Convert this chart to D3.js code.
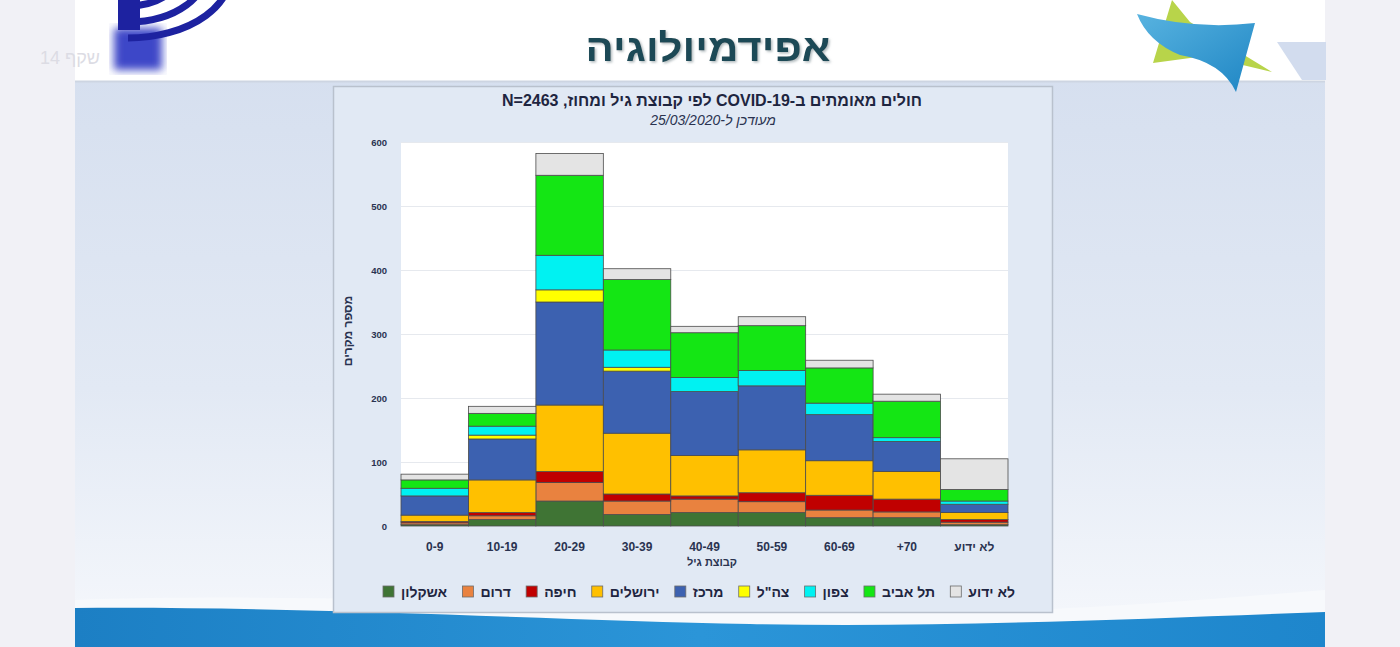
<!DOCTYPE html>
<html>
<head>
<meta charset="utf-8">
<script src="https://cdn.jsdelivr.net/npm/d3@7"></script>
<style>
  body { margin: 0; background: #f1f1f6; overflow: hidden; }
  text { font-family: "Liberation Sans", Arial, sans-serif; }
</style>
</head>
<body>
<div id="slide"></div>
<script>
// Age groups on the x axis
const ageGroups = ["0-9", "10-19", "20-29", "30-39", "40-49", "50-59", "60-69", "+70", "לא ידוע"];
// Districts, bottom of the stack first
const districts = ["אשקלון", "דרום", "חיפה", "ירושלים", "מרכז", "צה\"ל", "צפון", "תל אביב", "לא ידוע"];
const districtColors = ["#3f7434", "#e9823f", "#c00000", "#ffc000", "#3c61b0", "#ffff00", "#00f2f2", "#14e614", "#e4e4e4"];

// Cases per district, one value per age group
const ashkelon  = [2, 10, 39, 18, 21, 21, 13, 13, 2];
const south     = [3, 6, 29, 21, 21, 17, 12, 9, 4];
const haifa     = [2, 5, 17, 11, 5, 14, 23, 20, 4];
const jerusalem = [10, 51, 104, 95, 63, 67, 54, 43, 11];
const center    = [30, 64, 161, 97, 100, 100, 72, 47, 13];
const idf       = [0, 6, 19, 6, 0, 0, 0, 0, 0];
const north     = [12, 14, 54, 27, 22, 24, 18, 6, 5];
const telAviv   = [13, 20, 125, 110, 70, 70, 55, 57, 18];
const unknown   = [9, 11, 34, 17, 10, 14, 12, 11, 48];
const yTicks = [0, 100, 200, 300, 400, 500, 600];

const series = [ashkelon, south, haifa, jerusalem, center, idf, north, telAviv, unknown];

const width = 1400, height = 647;
const svg = d3.select("#slide").append("svg")
    .attr("width", width)
    .attr("height", height);

const defs = svg.append("defs");
const bodyGrad = defs.append("linearGradient").attr("id", "bodyGrad")
    .attr("x1", 0).attr("y1", 0).attr("x2", 0).attr("y2", 1);
bodyGrad.append("stop").attr("offset", "0%").attr("stop-color", "#d3ddee");
bodyGrad.append("stop").attr("offset", "60%").attr("stop-color", "#e2e9f4");
bodyGrad.append("stop").attr("offset", "100%").attr("stop-color", "#f6f8fc");
const blueGrad = defs.append("linearGradient").attr("id", "blueGrad")
    .attr("x1", 0).attr("y1", 0).attr("x2", 1).attr("y2", 0);
blueGrad.append("stop").attr("offset", "0%").attr("stop-color", "#1c7fc4");
blueGrad.append("stop").attr("offset", "50%").attr("stop-color", "#2b95d8");
blueGrad.append("stop").attr("offset", "100%").attr("stop-color", "#1e86cc");
const starGrad = defs.append("linearGradient").attr("id", "starGrad")
    .attr("x1", 0).attr("y1", 0).attr("x2", 1).attr("y2", 1);
starGrad.append("stop").attr("offset", "0%").attr("stop-color", "#58b3e0");
starGrad.append("stop").attr("offset", "100%").attr("stop-color", "#1f86c4");
defs.append("filter").attr("id", "blur").append("feGaussianBlur").attr("stdDeviation", 4);
defs.append("filter").attr("id", "shadow").append("feDropShadow")
    .attr("dx", 1.5).attr("dy", 1.5).attr("stdDeviation", 1)
    .attr("flood-color", "#7d8b90").attr("flood-opacity", 0.6);

// Slide background
svg.append("rect").attr("x", 75).attr("y", 0).attr("width", 1250).attr("height", height)
    .attr("fill", "url(#bodyGrad)");
svg.append("path")
    .attr("d", "M75,600 C300,592 600,606 800,612 C1000,618 1200,600 1325,590 L1325,647 L75,647 Z")
    .attr("fill", "#f7f9fc");
svg.append("path")
    .attr("d", "M75,608 C300,606 550,620 750,624 C950,628 1150,618 1325,612 L1325,647 L75,647 Z")
    .attr("fill", "url(#blueGrad)");

// Header band
svg.append("rect").attr("x", 75).attr("y", 0).attr("width", 1250).attr("height", 81)
    .attr("fill", "#ffffff");
svg.append("line").attr("x1", 75).attr("x2", 1325).attr("y1", 81.5).attr("y2", 81.5)
    .attr("stroke", "#cdd5e2").attr("stroke-width", 2);
svg.append("path").attr("d", "M1277,42 L1326,42 L1326,80 L1302,80 Z").attr("fill", "#d2dcee");

// Logos (rough shapes)
svg.append("text").attr("x", 100).attr("y", 64).attr("text-anchor", "end")
    .attr("font-size", 18).attr("fill", "#dcdce4").text("שקף 14");
svg.append("rect").attr("x", 114).attr("y", 28).attr("width", 48).attr("height", 42)
    .attr("fill", "#3c46c8").attr("filter", "url(#blur)");
const logo = svg.append("g").attr("fill", "none").attr("stroke", "#1d22a0").attr("stroke-width", 7);
[32, 48, 64].forEach(r => {
    logo.append("path").attr("d", d3.arc()({innerRadius: r, outerRadius: r, startAngle: Math.PI * 0.45, endAngle: Math.PI * 1.0}))
        .attr("vector-effect", "non-scaling-stroke")
        .attr("transform", "translate(128,-26) scale(1.6,1)");
});
svg.append("rect").attr("x", 118).attr("y", 0).attr("width", 22).attr("height", 30).attr("fill", "#1d22a0");

svg.append("path").attr("d", "M1172,0 L1190,22 L1272,72 L1205,56 L1153,63 Z").attr("fill", "#b8d44a");
svg.append("path").attr("d", "M1137,14 Q1195,30 1255,23 L1236,92 Q1222,62 1180,55 Q1148,42 1137,14 Z")
    .attr("fill", "url(#starGrad)");

// Slide title
svg.append("text").attr("x", 708).attr("y", 61).attr("text-anchor", "middle")
    .attr("font-size", 38).attr("font-weight", "bold").attr("fill", "#1f4a56")
    .attr("textLength", 245).attr("lengthAdjust", "spacingAndGlyphs")
    .attr("filter", "url(#shadow)")
    .text("אפידמיולוגיה");

// Chart panel
svg.append("rect").attr("x", 333.5).attr("y", 86.5).attr("width", 719).attr("height", 526)
    .attr("fill", "#e1e9f4").attr("stroke", "#b9c1cd").attr("stroke-width", 1.5);

const plot = {left: 401, right: 1008, top: 142, bottom: 526};
const x = d3.scaleBand().domain(ageGroups).range([plot.left, plot.right]).padding(0);
const y = d3.scaleLinear().domain([0, 600]).range([plot.bottom, plot.top]);

svg.append("rect").attr("x", plot.left).attr("y", plot.top)
    .attr("width", plot.right - plot.left).attr("height", plot.bottom - plot.top)
    .attr("fill", "#ffffff");

// Gridlines and y tick labels
svg.append("g").selectAll("line").data(yTicks.slice(1)).join("line")
    .attr("x1", plot.left).attr("x2", plot.right)
    .attr("y1", d => Math.round(y(d)) + 0.5).attr("y2", d => Math.round(y(d)) + 0.5)
    .attr("stroke", "#e6e9ee");
svg.append("g").selectAll("text").data(yTicks).join("text")
    .attr("x", 387).attr("y", d => y(d) + 3.5)
    .attr("text-anchor", "end").attr("font-size", 9.5).attr("font-weight", "bold")
    .attr("fill", "#2a3350").text(d => d);

// Stacked bars
const rows = ageGroups.map((a, i) => {
    const row = {age: a};
    districts.forEach((dname, j) => { row[dname] = series[j][i]; });
    return row;
});
const stacked = d3.stack().keys(districts)(rows);

svg.append("g").selectAll("g").data(stacked).join("g")
    .attr("fill", (d, i) => districtColors[i])
    .selectAll("rect").data(d => d.filter(s => s[1] > s[0])).join("rect")
    .attr("x", d => x(d.data.age))
    .attr("width", x.bandwidth())
    .attr("y", d => y(d[1]))
    .attr("height", d => y(d[0]) - y(d[1]))
    .attr("stroke", "#4b4b4b").attr("stroke-width", 0.8);

// X labels
svg.append("g").selectAll("text").data(ageGroups).join("text")
    .attr("x", d => x(d) + x.bandwidth() / 2).attr("y", 551)
    .attr("text-anchor", "middle").attr("font-size", 12).attr("font-weight", "bold")
    .attr("fill", "#2a3350").text(d => d);

svg.append("text").attr("x", 712).attr("y", 566).attr("text-anchor", "middle")
    .attr("font-size", 11).attr("font-weight", "bold")
    .attr("fill", "#2a3350").text("קבוצת גיל");

svg.append("text").attr("transform", "translate(352,331) rotate(-90)")
    .attr("text-anchor", "middle")
    .attr("font-size", 12).attr("font-weight", "bold")
    .attr("fill", "#2a3350").text("מספר מקרים");

// Chart titles
svg.append("text").attr("x", 712).attr("y", 106).attr("text-anchor", "middle")
    .attr("direction", "rtl").attr("font-size", 16).attr("font-weight", "bold")
    .attr("fill", "#1e2540").text("חולים מאומתים ב-COVID-19 לפי קבוצת גיל ומחוז, N=2463");
svg.append("text").attr("x", 713).attr("y", 125).attr("text-anchor", "middle")
    .attr("direction", "rtl").attr("font-size", 14).attr("font-style", "italic")
    .attr("fill", "#2a3350").text("מעודכן ל-25/03/2020");

// Legend, right to left starting with the last district, spread over 383..1015
const legend = svg.append("g");
const legRight = 1015, legLeft = 383, sq = 11, sqGap = 7;
const legTexts = districts.slice().reverse().map(name =>
    legend.append("text").attr("y", 597)
        .attr("text-anchor", "end")
        .attr("font-size", 14).attr("font-weight", "bold").attr("fill", "#1e2540")
        .text(name));
const textW = legTexts.map(t => t.node().getComputedTextLength());
const itemGap = (legRight - legLeft - d3.sum(textW) - districts.length * (sq + sqGap)) / (districts.length - 1);
let lx = legRight;
legTexts.forEach((t, k) => {
    const idx = districts.length - 1 - k;
    t.attr("x", lx);
    const sx = lx - textW[k] - sqGap - sq;
    legend.append("rect").attr("x", sx).attr("y", 586).attr("width", sq).attr("height", sq)
        .attr("fill", districtColors[idx]).attr("stroke", "#6b6b6b").attr("stroke-width", 0.8);
    lx = sx - itemGap;
});
</script>
</body>
</html>
